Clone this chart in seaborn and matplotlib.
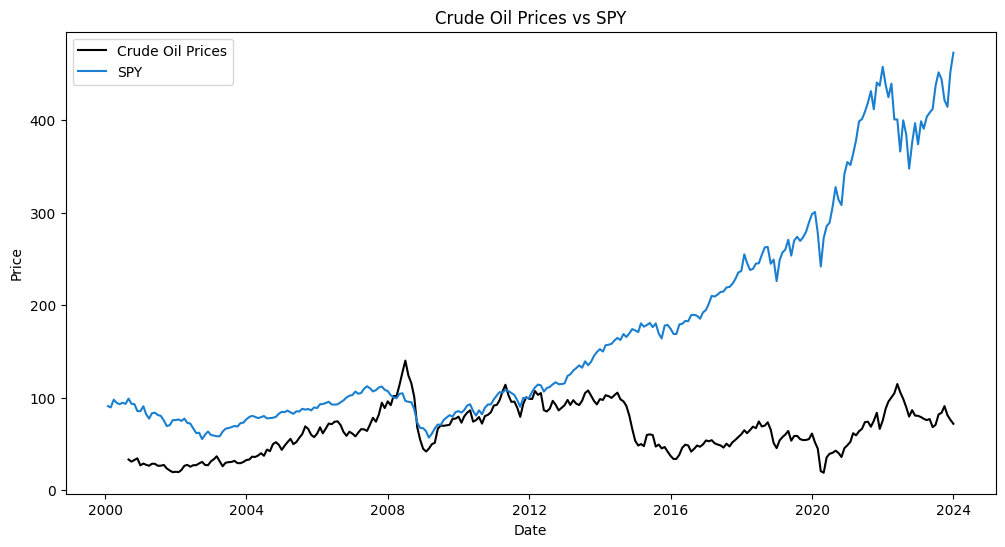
import pandas as pd
import seaborn as sns
import matplotlib.pyplot as plt

# monthly closes, month end
spy_start, spy_end = '2000-01-31', '2023-12-31'
oil_start, oil_end = '2000-08-31', '2023-12-31'

spy_prices = [
    90.8, 89.4, 97.8, 94.4, 92.9, 94.5, 93.2, 98.9, 93.4, 92.9, 85.5, 85.3,        # 2000
    90.7, 82.2, 77.3, 83.1, 83.7, 81.2, 80.2, 75.3, 69.2, 70.3, 75.6, 75.7,        # 2001
    76.4, 74.8, 77.3, 72.7, 72.0, 66.8, 61.7, 62.0, 55.2, 60.0, 63.4, 59.5,        # 2002
    59.0, 58.2, 58.2, 63.2, 66.4, 67.1, 68.1, 69.4, 68.7, 72.4, 72.9, 76.5,        # 2003
    79.1, 80.3, 79.2, 77.8, 78.9, 80.1, 77.5, 77.8, 78.2, 79.2, 82.5, 84.6,        # 2004
    84.3, 86.0, 84.1, 82.5, 85.2, 85.0, 87.9, 87.0, 87.7, 86.2, 89.4, 88.7,        # 2005
    92.9, 93.1, 94.2, 95.5, 92.6, 92.4, 92.8, 95.0, 97.0, 100.2, 102.0, 102.8,     # 2006
    106.6, 104.2, 105.0, 109.6, 112.3, 110.2, 106.7, 108.1, 111.0, 112.0, 108.4, 107.1,  # 2007
    102.5, 100.3, 99.4, 104.1, 104.7, 96.4, 95.5, 95.0, 87.3, 72.9, 67.2, 66.9,    # 2008
    63.5, 56.7, 61.0, 66.7, 70.9, 70.5, 75.8, 78.6, 81.0, 79.5, 84.3, 85.4,        # 2009
    83.9, 86.5, 91.4, 92.8, 85.5, 80.6, 86.2, 82.0, 89.1, 92.6, 92.6, 98.2,        # 2010
    102.4, 105.9, 105.4, 108.5, 107.1, 105.0, 102.9, 97.0, 90.1, 99.8, 99.4, 99.8, # 2011
    106.4, 111.0, 114.1, 113.3, 106.5, 110.3, 111.6, 114.4, 116.6, 114.5, 114.6, 115.4,  # 2012
    123.5, 125.1, 129.3, 131.8, 134.9, 132.3, 139.2, 135.1, 138.6, 145.1, 149.3, 152.4,  # 2013
    149.8, 156.6, 157.2, 158.2, 161.9, 164.5, 162.3, 168.7, 165.6, 169.5, 174.1, 172.7,  # 2014
    170.8, 180.3, 176.7, 178.5, 180.7, 176.2, 180.2, 169.2, 164.0, 177.9, 178.6, 174.5,  # 2015
    168.8, 168.8, 179.1, 179.8, 182.9, 182.6, 189.2, 189.5, 188.5, 185.3, 192.1, 194.8,  # 2016
    202.0, 210.0, 209.3, 211.4, 214.3, 214.7, 219.1, 219.7, 223.0, 228.3, 235.3, 236.9,  # 2017
    254.9, 245.7, 238.0, 239.2, 244.9, 245.3, 254.4, 262.5, 262.9, 244.7, 249.3, 226.0,  # 2018
    248.6, 256.7, 260.2, 270.7, 253.5, 269.8, 273.9, 269.4, 273.3, 279.3, 289.4, 298.4,  # 2019
    300.7, 277.9, 241.8, 272.5, 285.4, 289.2, 306.2, 327.6, 314.1, 308.2, 341.6, 354.7,  # 2020
    351.5, 363.4, 378.5, 398.6, 401.2, 408.9, 418.9, 431.4, 411.9, 440.7, 437.2, 457.7,  # 2021
    437.7, 424.8, 439.4, 400.8, 400.7, 366.1, 399.8, 384.5, 347.5, 375.7, 396.7, 374.0,  # 2022
    398.8, 390.7, 403.6, 408.1, 412.2, 437.2, 451.6, 444.3, 421.6, 414.4, 452.2, 472.9,  # 2023
]

oil_prices = [
    33.1, 30.8, 32.7, 34.4, 26.8,                                                  # 2000
    28.7, 27.4, 26.3, 28.5, 28.4, 26.3, 26.4, 27.2, 23.4, 21.2, 19.4, 19.8,        # 2001
    19.5, 21.7, 26.3, 27.3, 25.3, 26.9, 27.0, 28.9, 30.5, 27.2, 26.9, 31.2,        # 2002
    33.5, 36.6, 31.0, 25.8, 29.6, 30.2, 30.5, 31.6, 29.2, 29.1, 30.4, 32.5,        # 2003
    33.1, 36.2, 35.8, 37.4, 39.9, 37.1, 43.8, 42.1, 49.6, 51.8, 49.1, 43.5,        # 2004
    48.2, 51.8, 55.4, 49.7, 52.0, 56.5, 60.6, 68.9, 66.2, 59.8, 57.3, 61.0,        # 2005
    67.9, 61.4, 66.6, 71.9, 71.3, 73.9, 74.4, 70.3, 62.9, 58.7, 63.1, 61.1,        # 2006
    58.1, 62.0, 65.9, 65.7, 64.0, 70.7, 78.2, 74.0, 81.7, 94.5, 88.7, 96.0,        # 2007
    91.8, 101.8, 101.6, 113.5, 127.4, 140.0, 124.1, 115.5, 100.6, 67.8, 54.4, 44.6,  # 2008
    41.7, 44.8, 49.7, 51.1, 66.3, 69.9, 69.5, 70.0, 70.6, 77.0, 77.3, 79.4,        # 2009
    72.9, 79.7, 83.8, 86.2, 74.0, 75.6, 79.0, 71.9, 80.0, 81.4, 84.1, 91.4,        # 2010
    92.2, 97.0, 106.7, 113.9, 102.7, 95.4, 95.7, 88.8, 79.2, 93.2, 100.4, 98.8,    # 2011
    98.5, 107.1, 103.0, 104.9, 86.5, 85.0, 88.1, 96.5, 92.2, 86.2, 88.9, 91.8,     # 2012
    97.5, 92.1, 97.2, 93.5, 92.0, 96.6, 105.0, 107.7, 102.3, 96.4, 92.7, 98.4,     # 2013
    97.5, 102.6, 101.6, 99.7, 102.7, 105.4, 98.2, 96.0, 91.2, 80.5, 66.2, 53.3,    # 2014
    48.2, 49.8, 47.6, 59.6, 60.3, 59.5, 47.1, 49.2, 45.1, 46.6, 41.7, 37.0,        # 2015
    33.6, 33.8, 38.3, 45.9, 49.1, 48.3, 41.6, 44.7, 48.2, 46.9, 49.4, 53.7,        # 2016
    52.8, 54.0, 50.6, 49.3, 48.3, 46.0, 50.2, 47.2, 51.7, 54.4, 57.4, 60.4,        # 2017
    64.7, 61.6, 64.9, 68.6, 67.0, 74.2, 68.8, 69.8, 73.3, 65.3, 50.9, 45.4,        # 2018
    53.8, 57.2, 60.1, 63.9, 53.5, 58.5, 58.6, 55.1, 54.1, 54.2, 55.2, 61.1,        # 2019
    51.6, 44.8, 20.5, 18.8, 35.5, 39.3, 40.3, 42.6, 40.2, 35.8, 45.3, 48.5,        # 2020
    52.2, 61.5, 59.2, 63.6, 66.3, 73.5, 74.0, 68.5, 75.0, 83.6, 66.2, 75.2,        # 2021
    88.2, 95.7, 100.3, 104.7, 114.7, 105.8, 98.6, 89.6, 79.5, 86.5, 80.6, 80.3,    # 2022
    78.9, 77.1, 75.7, 76.8, 68.1, 70.6, 81.8, 83.6, 90.8, 81.0, 76.0, 71.7,        # 2023
]

spy = pd.DataFrame({'Date': pd.date_range(spy_start, spy_end, freq='ME'), 'Price': spy_prices})
oil = pd.DataFrame({'Date': pd.date_range(oil_start, oil_end, freq='ME'), 'Price': oil_prices})

fig, ax = plt.subplots(figsize=(12, 6))
sns.lineplot(data=oil, x='Date', y='Price', color='black', label='Crude Oil Prices', ax=ax)
sns.lineplot(data=spy, x='Date', y='Price', color='#1a7fd0', label='SPY', ax=ax)

ax.set_title('Crude Oil Prices vs SPY')
ax.set_xlabel('Date')
ax.set_ylabel('Price')
ax.legend(loc='upper left')

plt.savefig('out.png', dpi=100, bbox_inches='tight')
